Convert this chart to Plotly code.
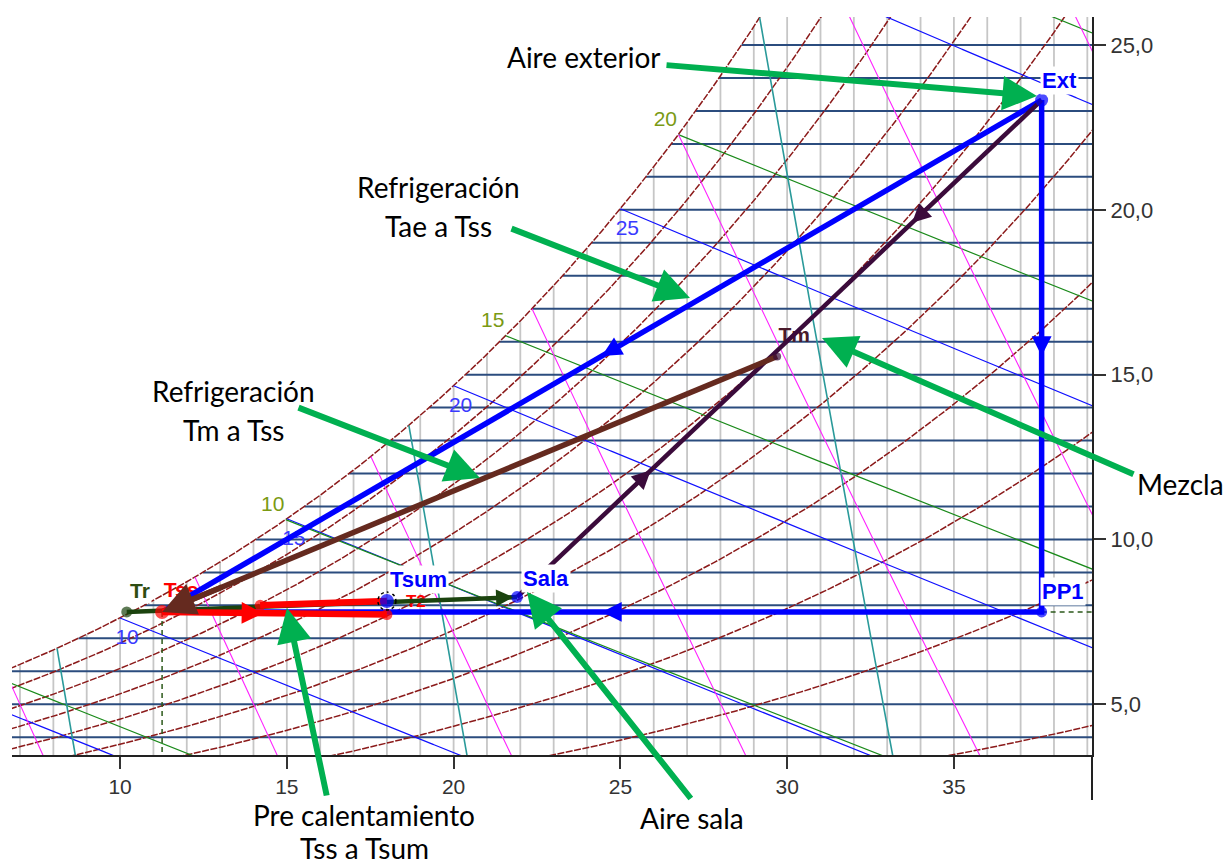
import numpy as np
import plotly.graph_objects as go

# ---------------------------------------------------------------------------
# Psychrometric chart (sea level) with an air-handling process drawn on it
# ---------------------------------------------------------------------------
P_ATM = 101.325  # kPa

# Visible window: dry-bulb temperature (°C) and humidity ratio (g/kg)
T_RANGE = [6.76, 39.14]
W_RANGE = [3.46, 25.85]

# Chart grid and isoline levels
dry_bulb_lines = list(range(7, 40))                 # °C
humidity_lines = list(range(4, 26))                 # g/kg
rh_levels = [10, 20, 30, 40, 50, 60, 70, 80, 90, 100]  # %
wet_bulb_levels = [5, 10, 15, 20, 25, 30]           # °C
wet_bulb_labelled = [10, 15, 20, 25]
enthalpy_levels = [5, 10, 15, 20, 25]               # kcal/kg
enthalpy_labelled = [10, 15, 20]
volume_levels = [0.78, 0.80, 0.82, 0.84, 0.86, 0.88, 0.90, 0.92, 0.94]  # m3/kg
density_levels = [1.10, 1.15, 1.20, 1.25, 1.30]     # kg/m3

x_ticks = [10, 15, 20, 25, 30, 35]
y_ticks = [5, 10, 15, 20, 25]
y_tick_text = ["5,0", "10,0", "15,0", "20,0", "25,0"]

# State points: (dry bulb °C, humidity ratio g/kg)
ext = (37.63, 23.33)    # outdoor air
pp1 = (37.63, 7.80)
tss = (11.26, 7.80)     # coil leaving air
tr = (10.20, 7.80)      # dew point
tsum = (18.00, 8.13)    # supply air
sala = (21.90, 8.25)    # room air
tm = (29.70, 15.55)     # mixed air
t2 = (18.00, 7.72)      # end of reheat
t1 = (14.20, 8.00)      # intermediate reheat point

BLUE = "#0000ff"
PURPLE = "#3b0b3b"
BROWN = "#652a1f"
RED = "#ff0000"
DKGREEN = "#1b430e"
CALLOUT = "#00b050"


# ---------------------------------------------------------------------------
# Moist-air property relations
# ---------------------------------------------------------------------------
def p_ws(t):
    return 0.61094 * np.exp(17.625 * t / (t + 243.04))


def w_sat(t):
    p = p_ws(t)
    return 622.0 * p / (P_ATM - p)


def w_rh(t, rh):
    p = rh / 100.0 * p_ws(t)
    return 622.0 * p / (P_ATM - p)


def t_dew(w):
    pw = (w / 1000.0) * P_ATM / (0.622 + w / 1000.0)
    a = np.log(pw / 0.61094)
    return 243.04 * a / (17.625 - a)


def w_wetbulb(t, twb):
    ws = w_sat(twb) / 1000.0
    return 1000.0 * ((2501 - 2.326 * twb) * ws - 1.006 * (t - twb)) / (2501 + 1.86 * t - 4.186 * twb)


def w_enthalpy(t, h_kcal):
    h = h_kcal * 4.1868
    return 1000.0 * (h - 1.006 * t) / (2501 + 1.86 * t)


def w_volume(t, v):
    return 1000.0 * (v * P_ATM / (0.287042 * (t + 273.15)) - 1.0) / 1.607858


def w_density(t, rho):
    k = rho * 0.287042 * (t + 273.15) / P_ATM
    return 1000.0 * (k - 1.0) / (1.0 - 1.607858 * k)


def bisect(g, a, b):
    ga = g(a)
    for _ in range(80):
        m = 0.5 * (a + b)
        gm = g(m)
        if (gm > 0) == (ga > 0):
            a, ga = m, gm
        else:
            b = m
    return 0.5 * (a + b)


def isoline(f):
    """Trace a falling isoline from the saturation curve down to the window edge."""
    t0 = bisect(lambda t: f(t) - w_sat(t), -30.0, 70.0)
    if t0 > T_RANGE[1] + 0.3 or f(t0) < W_RANGE[0]:
        return None
    t_end = bisect(lambda t: f(t) - (W_RANGE[0] - 0.3), t0, 100.0)
    t_end = min(t_end, T_RANGE[1] + 0.3)
    t = np.linspace(t0, t_end, 400)
    return t, f(t), t0


fig = go.Figure()


def add_family(segments, color, width, dash=None):
    xs, ys = [], []
    for x, y in segments:
        xs += list(np.asarray(x, dtype=float)) + [None]
        ys += list(np.asarray(y, dtype=float)) + [None]
    fig.add_trace(go.Scatter(x=xs, y=ys, mode="lines",
                             line=dict(color=color, width=width, dash=dash),
                             hoverinfo="skip", showlegend=False))


# Dry-bulb verticals (up to saturation)
add_family([([t, t], [W_RANGE[0] - 1, w_sat(t)]) for t in dry_bulb_lines], "#c6c6c6", 1.8)

# Humidity-ratio horizontals (from saturation to the right edge)
add_family([([t_dew(w), T_RANGE[1] + 1], [w, w]) for w in humidity_lines], "#2b4c7e", 2)

# Relative humidity curves
t_rh = np.linspace(T_RANGE[0] - 0.3, T_RANGE[1] + 0.3, 300)
add_family([(t_rh, w_rh(t_rh, rh)) for rh in rh_levels], "#8b1a1a", 1.5, "7px,1.5px")

# Wet-bulb lines
wb_segments, wb_starts = [], {}
for twb in wet_bulb_levels:
    res = isoline(lambda t, v=twb: w_wetbulb(t, v))
    if res:
        wb_segments.append(res[:2])
        wb_starts[twb] = res[2]
add_family(wb_segments, "#1010ff", 1.2)

# Enthalpy lines (kcal/kg)
h_segments, h_starts = [], {}
for h in enthalpy_levels:
    res = isoline(lambda t, v=h: w_enthalpy(t, v))
    if res:
        h_segments.append(res[:2])
        h_starts[h] = res[2]
add_family(h_segments, "#1a8a1a", 1.2)

# Specific volume lines
v_segments = []
for v in volume_levels:
    res = isoline(lambda t, vv=v: w_volume(t, vv))
    if res:
        v_segments.append(res[:2])
add_family(v_segments, "#ff22ff", 1.1)

# Density lines
d_segments = []
for rho in density_levels:
    res = isoline(lambda t, r=rho: w_density(t, r))
    if res:
        d_segments.append(res[:2])
add_family(d_segments, "#2a9a9a", 1.6)

# Isoline labels (pixel offsets converted to data units)
PX_T = (T_RANGE[1] - T_RANGE[0]) / 1080.0
PX_W = (W_RANGE[1] - W_RANGE[0]) / 738.0

wb_lab_t = [wb_starts[v] + 7 * PX_T for v in wet_bulb_labelled]
wb_lab_w = [w_sat(wb_starts[v]) - 21 * PX_W for v in wet_bulb_labelled]
fig.add_trace(go.Scatter(x=wb_lab_t, y=wb_lab_w, mode="text",
                         text=[str(v) for v in wet_bulb_labelled],
                         textfont=dict(family="Liberation Sans, Arial", size=21, color="#3a3aff"),
                         hoverinfo="skip", showlegend=False))

h_lab_t = [h_starts[v] - 13 * PX_T for v in enthalpy_labelled]
h_lab_w = [w_sat(h_starts[v]) + 14 * PX_W for v in enthalpy_labelled]
fig.add_trace(go.Scatter(x=h_lab_t, y=h_lab_w, mode="text",
                         text=[str(v) for v in enthalpy_labelled],
                         textfont=dict(family="Liberation Sans, Arial", size=21, color="#7a9a14"),
                         hoverinfo="skip", showlegend=False))

# Labels that sit under the process lines
fig.add_trace(go.Scatter(x=[tss[0] + 19 * PX_T, tm[0] + 17 * PX_T, t2[0] + 29 * PX_T],
                         y=[tss[1] + 20 * PX_W, tm[1] + 20 * PX_W, t2[1] + 12 * PX_W],
                         mode="text",
                         text=["<b>Tss</b>", "<b>Tm</b>", "<b>T2</b>"],
                         textfont=dict(family="Liberation Sans, Arial", size=[21, 21, 17],
                                       color=[RED, "#4a1b2c", RED]),
                         hoverinfo="skip", showlegend=False))

# Projection lines
add_family([([tss[0], tss[0]], [tss[1], W_RANGE[0]]),
            ([pp1[0], T_RANGE[1]], [pp1[1], pp1[1]])], "#2d5a1b", 1.5, "5px,4px")


def line(pts, color, width):
    fig.add_trace(go.Scatter(x=[p[0] for p in pts], y=[p[1] for p in pts], mode="lines",
                             line=dict(color=color, width=width),
                             hoverinfo="skip", showlegend=False))


# Process lines
line([ext, pp1, tss], BLUE, 5.5)        # outdoor air: sensible cooling then dehumidifying
line([ext, tss], BLUE, 5.5)             # outdoor air straight to coil exit
line([sala, ext], PURPLE, 4.5)          # mixing line
line([tm, tss], BROWN, 5.5)             # mixed air through the coil
line([tr, sala], DKGREEN, 4.5)          # dew point to room
line([tss, t2], RED, 6.5)               # reheat
line([t1, tsum], RED, 6.5)

# State markers
mk_pts = [ext, pp1, sala, tsum, tss, t1, t2, tr, tm]
mk_col = [BLUE, BLUE, BLUE, BLUE, RED, RED, RED, DKGREEN, PURPLE]
mk_size = [13, 11, 12, 14, 14, 11, 11, 11, 8]
fig.add_trace(go.Scatter(x=[p[0] for p in mk_pts], y=[p[1] for p in mk_pts], mode="markers",
                         marker=dict(color=mk_col, size=mk_size, line=dict(width=0)),
                         hoverinfo="skip", showlegend=False))

# Dotted ring around the supply point
r_t, r_w = 9 * PX_T, 9 * PX_W
fig.add_shape(type="circle", xref="x", yref="y",
              x0=tsum[0] - r_t, x1=tsum[0] + r_t, y0=tsum[1] - r_w, y1=tsum[1] + r_w,
              line=dict(color="black", width=1.5, dash="dot"))

annotations = []


def along(a, b, f):
    return (a[0] + f * (b[0] - a[0]), a[1] + f * (b[1] - a[1]))


def flow_arrow(a, b, f_tip, f_tail, color, width, size=1.0):
    tip = along(a, b, f_tip)
    tail = along(a, b, f_tail)
    annotations.append(dict(x=tip[0], y=tip[1], ax=tail[0], ay=tail[1], xref="x", yref="y",
                            axref="x", ayref="y", text="", showarrow=True, arrowhead=2,
                            arrowsize=size, arrowwidth=width, arrowcolor=color, standoff=0))


flow_arrow(ext, pp1, 0.50, 0.44, BLUE, 3.6, 1.1)
flow_arrow(ext, tss, 0.50, 0.46, BLUE, 3.6, 1.1)
flow_arrow(pp1, tss, 0.50, 0.46, BLUE, 3.6, 1.1)
flow_arrow(sala, ext, 0.255, 0.20, PURPLE, 3.4, 1.1)
flow_arrow(ext, sala, 0.247, 0.19, PURPLE, 3.4, 1.1)
flow_arrow(tm, tss, 1.0, 0.9, BROWN, 5.5, 1.2)
flow_arrow(tss, t2, 0.45, 0.38, RED, 3.6, 1.2)
flow_arrow(tr, sala, 0.99, 0.93, DKGREEN, 3.4)

# Point labels
LBL_FONT = "Liberation Sans, Arial"


def point_label(p, text, color, size=21, dx=-2, dy=20):
    annotations.append(dict(x=p[0], y=p[1], xref="x", yref="y", text="<b>%s</b>" % text,
                            showarrow=False, xanchor="left", yanchor="middle",
                            xshift=dx, yshift=dy, bgcolor="white", borderpad=1,
                            font=dict(family=LBL_FONT, size=size, color=color)))


point_label(ext, "Ext", BLUE, 22)
point_label(pp1, "PP1", BLUE, 22)
point_label(tsum, "Tsum", BLUE, 22, dx=1, dy=22)
point_label(sala, "Sala", BLUE, 22, dx=4, dy=19)
point_label(tr, "Tr", "#2e4d12", 21, dx=1, dy=21)


# Callouts placed in pixel space
def px(x):
    return (x - 12) / 1080.0


def py(y):
    return (755 - y) / 738.0


CALL_FONT = dict(family="Lato, Open Sans, sans-serif", size=28, color="black")

callout_text = [
    ("Aire exterior", 583, 57),
    ("Refrigeración", 438, 187),
    ("Tae a Tss", 438, 226),
    ("Refrigeración", 233, 391),
    ("Tm a Tss", 233, 430),
    ("Mezcla", 1180, 484),
    ("Pre calentamiento", 364, 815),
    ("Tss a Tsum", 364, 848),
    ("Aire sala", 692, 818),
]
for txt, x, y in callout_text:
    annotations.append(dict(x=px(x), y=py(y), xref="paper", yref="paper", text=txt,
                            showarrow=False, xanchor="center", yanchor="middle", font=CALL_FONT))

callout_arrows = [  # (tail x, tail y, tip x, tip y)
    (665, 65, 1037, 96),
    (510, 228, 690, 298),
    (297, 407, 480, 478),
    (1135, 475, 822, 338),
    (327, 797, 287, 608),
    (692, 800, 527, 592),
]
for x0, y0, x1, y1 in callout_arrows:
    annotations.append(dict(x=px(x1), y=py(y1), xref="paper", yref="paper",
                            ax=x0 - x1, ay=y0 - y1, axref="pixel", ayref="pixel",
                            text="", showarrow=True, arrowhead=2, arrowsize=1.15,
                            arrowwidth=6, arrowcolor=CALLOUT, standoff=0))

# Right frame line continues below the temperature axis
fig.add_shape(type="line", xref="paper", yref="paper", x0=1, x1=1, y0=0, y1=py(800),
              line=dict(color="#222", width=2))

TICK_FONT = dict(family="Liberation Sans, Arial", size=21, color="#333")

fig.update_layout(
    width=1225, height=865,
    margin=dict(l=12, r=133, t=17, b=110),
    paper_bgcolor="white", plot_bgcolor="white",
    showlegend=False,
    annotations=annotations,
    xaxis=dict(range=T_RANGE, tickvals=x_ticks, ticks="outside", ticklen=12, tickwidth=2,
               tickcolor="#333", showline=True, linecolor="#222", linewidth=2,
               showgrid=False, zeroline=False, tickfont=TICK_FONT),
    yaxis=dict(range=W_RANGE, side="right", tickvals=y_ticks, ticktext=y_tick_text,
               ticks="outside", ticklen=12, tickwidth=2, tickcolor="#333",
               showline=True, linecolor="#222", linewidth=2,
               showgrid=False, zeroline=False, tickfont=dict(TICK_FONT, size=22)),
)

fig.write_html("out.html")
